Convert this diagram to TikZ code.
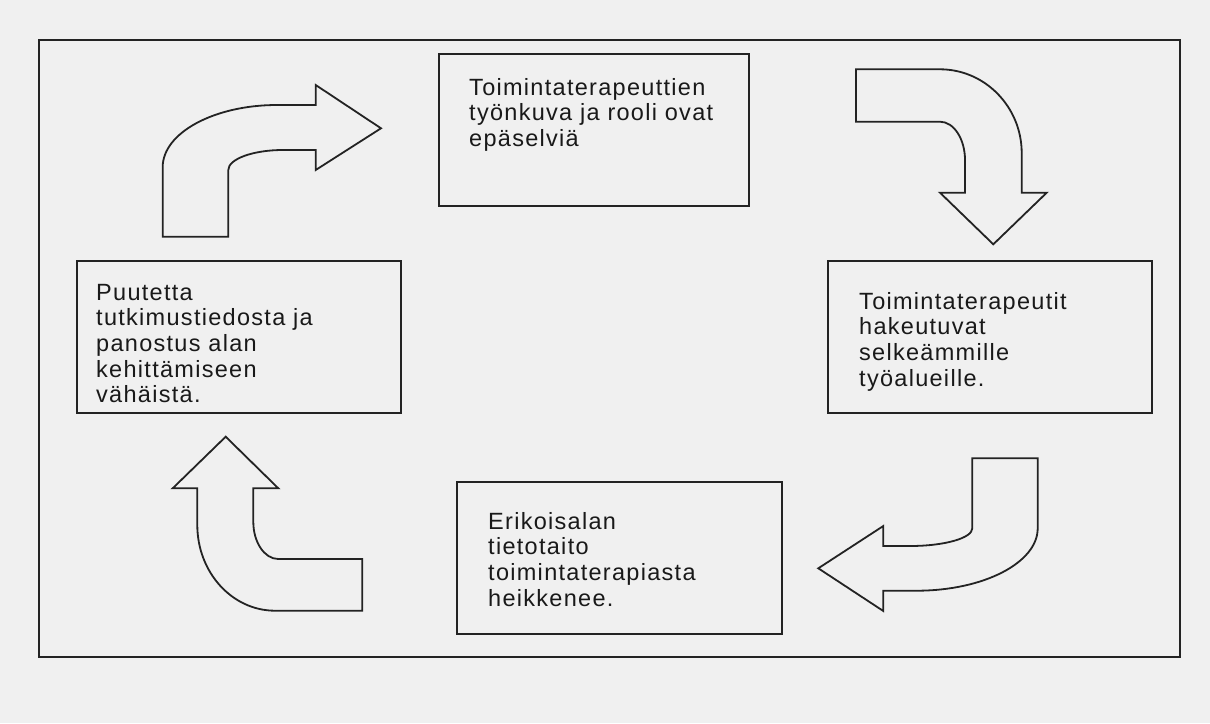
\documentclass[tikz,border=0pt]{standalone}
\usepackage{fontspec}
\setmainfont{Liberation Sans}[LetterSpace=5.5]
\usepackage{tikz}
\usetikzlibrary{positioning}
\definecolor{tausta}{RGB}{240,240,240}
\definecolor{viiva}{RGB}{35,35,35}

\begin{document}
\begin{tikzpicture}[x=1pt,y=-1pt]
\tikzstyle{laatikko}=[draw=viiva,line width=2pt,inner sep=0pt]
\tikzstyle{teksti}=[align=left,inner sep=0pt,text=black!90,font=\fontsize{23.5}{25.6}\selectfont]
\tikzstyle{nuoli}=[draw=viiva,line width=1.8pt,line join=miter]

   \fill[tausta] (0,0) rectangle (1210,723);
   \useasboundingbox (0,0) rectangle (1210,723);
   \draw[viiva,line width=2pt] (38.5,39.5) rectangle (1180,657);

   \path (594,130) node[laatikko,minimum width=310pt,minimum height=152pt] (A) {}
         (990,337) node[laatikko,minimum width=324pt,minimum height=152pt] (B) {}
         (619.5,558) node[laatikko,minimum width=325pt,minimum height=152pt] (C) {}
         (239,337) node[laatikko,minimum width=324pt,minimum height=152pt] (D) {};

    \node[teksti,below right=25pt and 31pt of A.north west] (At) {Toimintaterapeuttien\\työnkuva ja rooli ovat\\epäselviä};
    \node[teksti,below right=32pt and 32pt of B.north west] (Bt) {Toimintaterapeutit\\hakeutuvat\\selkeämmille\\työalueille.};
    \node[teksti,below right=31pt and 32pt of C.north west] (Ct) {Erikoisalan\\tietotaito\\toimintaterapiasta\\heikkenee.};
    \node[teksti,below right=24pt and 20pt of D.north west] (Dt) {Puutetta\\tutkimustiedosta ja\\panostus alan\\kehittämiseen\\vähäistä.};

    \draw[nuoli] (162.7,236.7) -- (162.7,167) .. controls (162.7,133) and (214,105) .. (277,105) -- (315.7,105) -- (315.7,85) -- (381,128.3) -- (315.7,170) -- (315.7,150) -- (283,150) .. controls (253,150) and (228.3,159) .. (228.3,170) -- (228.3,236.7) -- cycle;
    \draw[nuoli] (856,69.3) -- (940,69.3) .. controls (985,69.3) and (1021.7,107) .. (1021.7,153) -- (1021.7,192.7) -- (1046.7,192.7) -- (993.3,244.3) -- (940,192.7) -- (965,192.7) -- (965,160) .. controls (965,139) and (953.8,121.7) .. (940,121.7) -- (856,121.7) -- cycle;
    \draw[nuoli] (972.3,458.3) -- (1037.7,458.3) -- (1037.7,528.3) .. controls (1037.7,562.7) and (983.5,590.7) .. (916.7,590.7) -- (883.3,590.7) -- (883.3,611) -- (818.3,568.3) -- (883.3,526) -- (883.3,546) -- (910,546) .. controls (944.4,546) and (972.3,538.1) .. (972.3,528.3) -- cycle;
    \draw[nuoli] (362.3,559) -- (362.3,610.7) -- (275,610.7) .. controls (232.1,610.7) and (197.3,572.3) .. (197.3,525) -- (197.3,488.3) -- (172.7,488.3) -- (225.7,436.7) -- (278.3,488.3) -- (253.3,488.3) -- (253.3,521.7) .. controls (253.3,542.3) and (264.5,559) .. (278.3,559) -- cycle;
\end{tikzpicture}
\end{document}
